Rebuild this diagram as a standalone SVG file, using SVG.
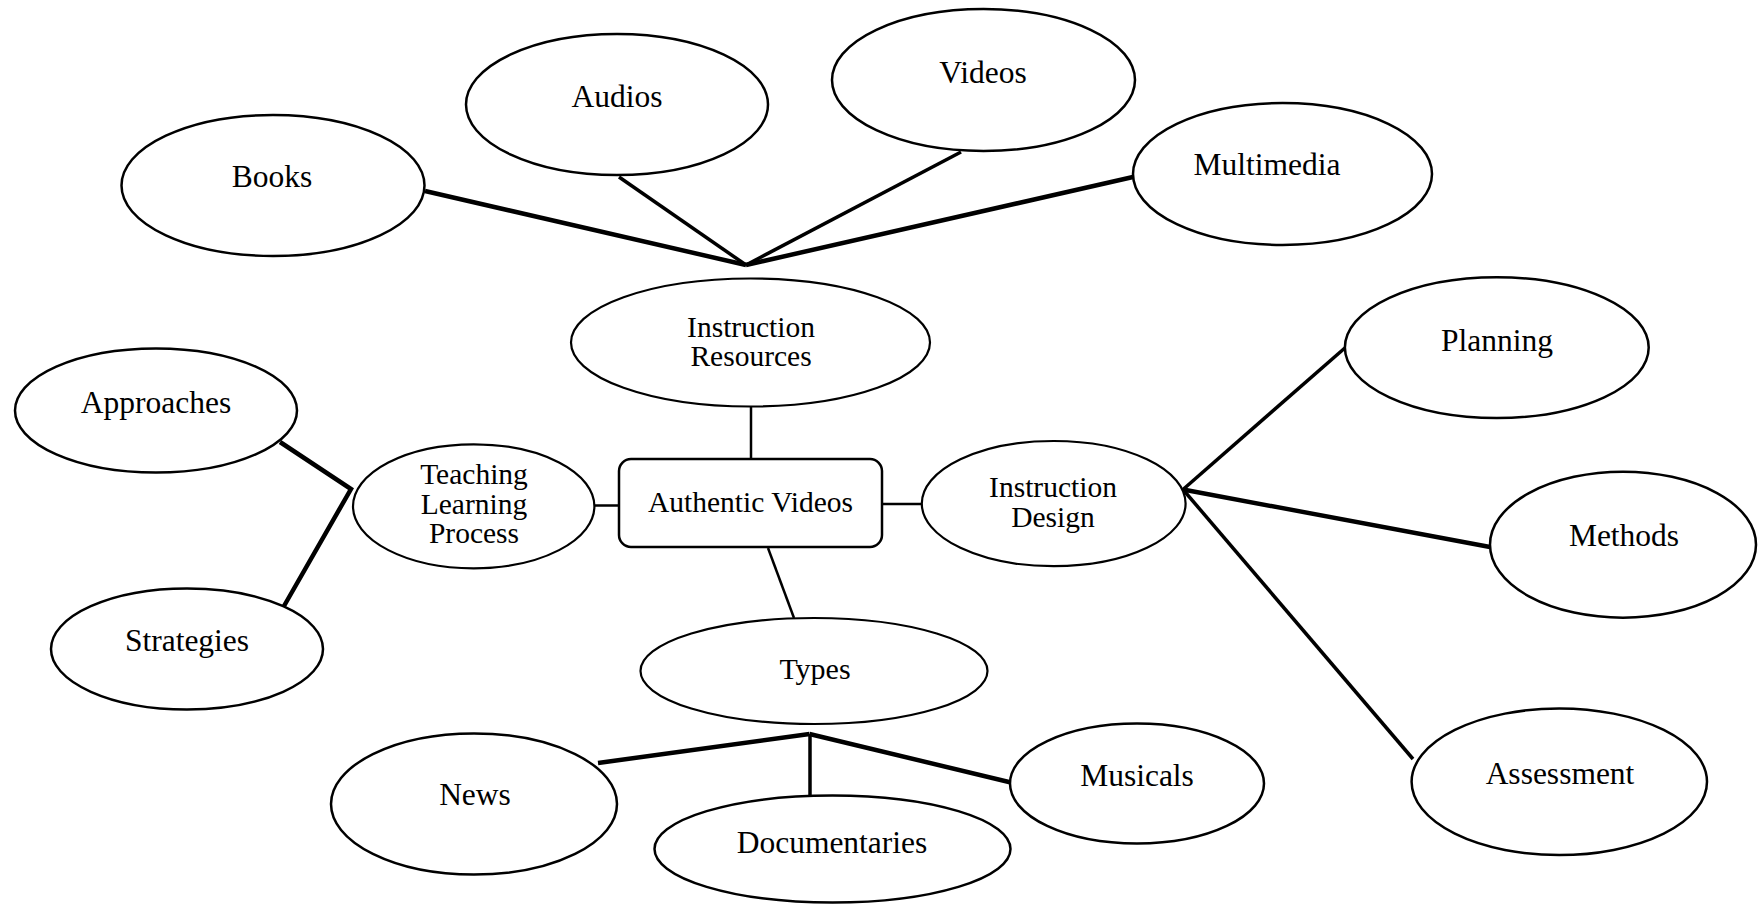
<svg xmlns="http://www.w3.org/2000/svg" width="1758" height="904" viewBox="0 0 1758 904">
<style>
.n{fill:#fff;stroke:#000;stroke-width:2.5}
.ni{fill:#fff;stroke:#000;stroke-width:2.2}
text{font-family:'Liberation Serif','Times New Roman',Times,serif;fill:#000;text-anchor:middle}
.t{font-size:31.5px}
.ti{font-size:29.5px}
.e{stroke:#000;fill:none;stroke-linecap:butt;stroke-linejoin:miter}
.thick{stroke-width:4.5}
.mid{stroke-width:3.5}
.thin{stroke-width:2.5}
</style>
<rect width="1758" height="904" fill="#fff"/>
<g id="connectors">
<polyline class="e thick" points="425,191 746,265"/>
<line class="e mid" x1="619" y1="177" x2="746" y2="265"/>
<line class="e mid" x1="961" y1="152" x2="746" y2="265"/>
<line class="e thick" x1="1133" y1="177" x2="746" y2="265"/>
<line class="e thin" x1="751" y1="407" x2="751" y2="459"/>
<line class="e thin" x1="594" y1="505.5" x2="619" y2="505.5"/>
<line class="e thin" x1="882" y1="504" x2="922" y2="504"/>
<line class="e thin" x1="768" y1="548" x2="794" y2="618"/>
<polyline class="e thick" points="280,442 351,489 284,606"/>
<line class="e mid" x1="1183" y1="489.5" x2="1346" y2="347"/>
<line class="e thick" x1="1183" y1="489.5" x2="1490" y2="547"/>
<line class="e mid" x1="1183" y1="489.5" x2="1413" y2="759"/>
<line class="e thick" x1="809.5" y1="734" x2="598" y2="763"/>
<line class="e mid" x1="810" y1="734" x2="810" y2="796"/>
<line class="e thick" x1="809.5" y1="734" x2="1011" y2="782.5"/>
</g>
<g id="books"><ellipse class="n" cx="273" cy="185.5" rx="151.5" ry="70.5"/><text class="t" x="272" y="187" font-family="Liberation Serif, serif">Books</text></g>
<g id="audios"><ellipse class="n" cx="617" cy="104.5" rx="151" ry="70.5"/><text class="t" x="617" y="107">Audios</text></g>
<g id="videos"><ellipse class="n" cx="983.5" cy="80" rx="151.5" ry="71"/><text class="t" x="983" y="83">Videos</text></g>
<g id="multimedia"><ellipse class="n" cx="1282.5" cy="174" rx="149.5" ry="71"/><text class="t" x="1267" y="175">Multimedia</text></g>
<g id="instruction-resources"><ellipse class="ni" cx="750.5" cy="342.5" rx="179.5" ry="64"/><text class="ti" x="751" y="337">Instruction</text><text class="ti" x="751" y="366">Resources</text></g>
<g id="authentic-videos"><rect class="n" x="619" y="459" width="263" height="88" rx="12"/><text class="ti" x="750.5" y="512">Authentic Videos</text></g>
<g id="teaching-learning-process"><ellipse class="ni" cx="473.7" cy="506.3" rx="120.7" ry="62"/><text class="ti" x="474" y="484">Teaching</text><text class="ti" x="474" y="514">Learning</text><text class="ti" x="474" y="543">Process</text></g>
<g id="approaches"><ellipse class="n" cx="156" cy="410.5" rx="141" ry="62"/><text class="t" x="156" y="413">Approaches</text></g>
<g id="strategies"><ellipse class="n" cx="187" cy="649" rx="136" ry="60.5"/><text class="t" x="187" y="651">Strategies</text></g>
<g id="instruction-design"><ellipse class="ni" cx="1053.7" cy="503.6" rx="131.9" ry="62.6"/><text class="ti" x="1053" y="497">Instruction</text><text class="ti" x="1053" y="527">Design</text></g>
<g id="planning"><ellipse class="n" cx="1496.8" cy="347.6" rx="151.9" ry="70.4"/><text class="t" x="1497" y="351">Planning</text></g>
<g id="methods"><ellipse class="n" cx="1623" cy="544.7" rx="133" ry="73"/><text class="t" x="1624" y="546">Methods</text></g>
<g id="assessment"><ellipse class="n" cx="1559.3" cy="781.8" rx="147.7" ry="73.3"/><text class="t" x="1560" y="783.5">Assessment</text></g>
<g id="types"><ellipse class="ni" cx="814" cy="671" rx="173.5" ry="53"/><text class="ti" x="815" y="679" style="font-size:30px">Types</text></g>
<g id="news"><ellipse class="n" cx="474" cy="804" rx="143" ry="70.5"/><text class="t" x="475" y="805">News</text></g>
<g id="documentaries"><ellipse class="n" cx="832.5" cy="849" rx="178" ry="53.5"/><text class="t" x="832" y="853">Documentaries</text></g>
<g id="musicals"><ellipse class="n" cx="1137" cy="783.5" rx="127" ry="60"/><text class="t" x="1137" y="785.5">Musicals</text></g>
</svg>
